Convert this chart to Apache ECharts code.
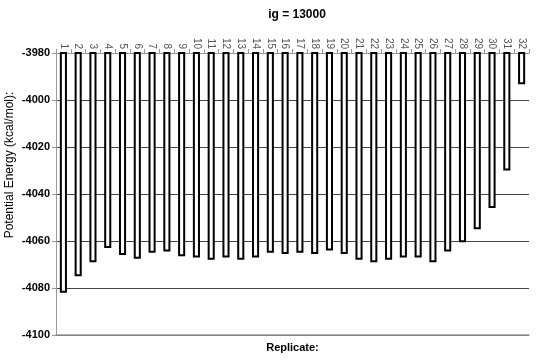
<!DOCTYPE html>
<html>
<head>
<meta charset="utf-8">
<script src="https://cdn.jsdelivr.net/npm/echarts@6/dist/echarts.min.js"></script>
<style>html,body{margin:0;padding:0;background:#fff}#c{width:540px;height:363px}</style>
</head>
<body>
<div id="c"></div>
<script>
var categories = ['1','2','3','4','5','6','7','8','9','10','11','12','13','14','15','16','17','18','19','20','21','22','23','24','25','26','27','28','29','30','31','32'];
var energy = [-4082, -4075, -4069, -4063, -4066, -4067.5, -4065, -4064.5, -4066.5, -4067, -4068, -4067, -4068, -4067, -4065, -4065.5, -4065, -4065.5, -4064, -4065.5, -4068, -4069, -4068, -4067, -4067, -4069, -4064.5, -4060.5, -4055, -4046, -4030, -3993.3];
var yTicks = [-4100, -4080, -4060, -4040, -4020, -4000, -3980];

var chart = echarts.init(document.getElementById('c'));
chart.setOption({
  animation: false,
  backgroundColor: '#ffffff',
  title: {
    text: 'ig = 13000',
    left: 292, top: 4, textAlign: 'center',
    textStyle: {fontFamily: 'Liberation Sans', fontWeight: 'bold', fontSize: 12, color: '#000'}
  },
  graphic: [{
    type: 'text',
    x: 10, y: 165,
    rotation: Math.PI / 2,
    style: {
      text: 'Potential Energy (kcal/mol):',
      fontFamily: 'Liberation Sans', fontSize: 12, fill: '#000',
      textAlign: 'center', textVerticalAlign: 'middle'
    }
  }],
  grid: {left: 56, right: 11, top: 53, bottom: 28, containLabel: false},
  xAxis: [{
    type: 'category',
    data: categories,
    position: 'top',
    name: 'Replicate:',
    nameLocation: 'middle',
    nameGap: -300,
    nameTextStyle: {fontFamily: 'Liberation Sans', fontWeight: 'bold', fontSize: 11, color: '#000'},
    axisLine: {onZero: false, lineStyle: {color: '#999', width: 1}},
    axisTick: {show: true, length: 4, lineStyle: {color: '#999'}},
    axisLabel: {rotate: 90, margin: 4, fontFamily: 'Liberation Sans', fontSize: 10, color: '#555', interval: 0}
  }, {
    type: 'category',
    data: categories,
    position: 'bottom',
    axisLine: {onZero: false, lineStyle: {color: '#999', width: 1.5}},
    axisTick: {show: false},
    axisLabel: {show: false}
  }],
  yAxis: {
    type: 'value',
    min: yTicks[0], max: yTicks[yTicks.length - 1], interval: 20,
    axisLine: {show: true, lineStyle: {color: '#999', width: 1}},
    axisTick: {show: true, length: 4, lineStyle: {color: '#999'}},
    axisLabel: {margin: 6, fontFamily: 'Liberation Sans', fontWeight: 'bold', fontSize: 11, color: '#000',
      formatter: function (v) { return String(v); }},
    splitLine: {show: true, lineStyle: {color: '#444', width: 1}}
  },
  series: [{
    type: 'bar',
    data: energy,
    barWidth: '48%',
    itemStyle: {color: '#fff', borderColor: '#000', borderWidth: 2}
  }]
});
</script>
</body>
</html>
